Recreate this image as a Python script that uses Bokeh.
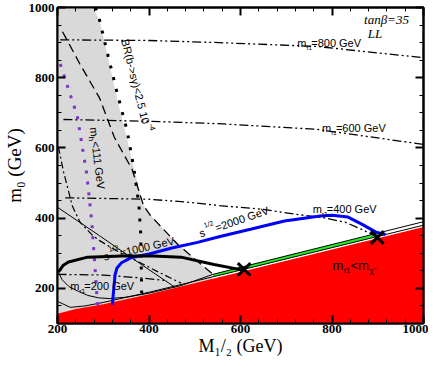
import math
from bokeh.plotting import figure
from bokeh.models import Range1d, LinearAxis, SingleIntervalTicker
from bokeh.core.properties import value
from bokeh.embed import file_html
from bokeh.resources import INLINE

# ---------------- data ----------------
# boundary of the stau-LSP (red) region
red_x = [200, 240, 300, 400, 600, 800, 1000]
red_y = [128, 141, 155, 183, 247, 311, 375]
# right boundary of the grey excluded region
grey_x = [277, 292, 309, 330, 351, 367, 388, 403, 463, 538]
grey_y = [1000, 964, 867, 742, 631, 542, 436, 408, 325, 242]
# thin double lines along the boundary
lineA_x = [200, 210, 225, 245, 266, 290, 313, 350, 399, 470, 540, 600, 800, 1000]
lineA_y = [250, 225, 205, 192, 180, 173, 171, 175, 186, 208, 240, 260, 325, 390]
lineB_x = [200, 228, 260, 300, 400, 540, 600, 800, 1000]
lineB_y = [163, 146, 150, 160, 189, 233, 252, 316, 380]
# green coannihilation strip
green_x = [540, 600, 800, 905]
green_lo = [233, 252, 316, 350]
green_hi = [240, 260, 325, 358]
# stau mass contours (dash-dot-dot)
st200_x = [200, 300, 380, 440]
st200_y = [240, 238, 230, 222]
st400_x = [217, 399, 480, 553, 650, 726, 775, 830, 870, 900]
st400_y = [458, 454, 446, 436, 425, 410, 403, 388, 365, 345]
st600_x = [213, 400, 553, 767, 1000]
st600_y = [681, 676, 669, 653, 610]
st800_x = [206, 400, 553, 767, 1000]
st800_y = [908, 906, 900, 889, 857]
# other left-side contours
dd_x = [202, 213, 224, 232, 249, 275, 292, 335, 378, 420, 470]
dd_y = [603, 533, 478, 436, 389, 353, 336, 303, 275, 247, 215]
thin_x = [200, 292, 363, 457]
thin_y = [431, 350, 286, 203]
dash_x = [211, 249, 292, 324, 363, 388, 403, 463, 538]
dash_y = [931, 839, 742, 631, 539, 436, 408, 325, 242]
br_x = [283, 292, 303, 328, 352, 367, 378, 382, 384]
br_y = [1000, 964, 903, 769, 650, 542, 436, 353, 186]
mh_x = [206, 243, 264, 266, 275, 286, 288]
mh_y = [839, 692, 525, 500, 389, 181, 150]
# reach contours
blue_x = [320, 323, 326, 330, 340, 360, 400, 450, 506, 553, 624, 696, 774, 800, 835, 865, 895, 917]
blue_y = [153, 200, 240, 258, 273, 287, 298, 315, 331, 347, 369, 392, 406, 408, 403, 383, 361, 353]
black_x = [202, 212, 224, 266, 339, 410, 470, 542, 606]
black_y = [247, 265, 275, 289, 292, 292, 289, 268, 252]
cross_x = [608, 899]
cross_y = [254, 345]

x_tick_values = [200, 400, 600, 800, 1000]
y_tick_values = [200, 400, 600, 800, 1000]

SANS = "Liberation Sans"
SERIF = "Liberation Serif"

p = figure(width=428, height=358, x_range=Range1d(200, 1000), y_range=Range1d(100, 1000),
           output_backend="svg", toolbar_location=None,
           min_border_left=49, min_border_right=5, min_border_top=7, min_border_bottom=0)
p.grid.visible = False
p.background_fill_color = "white"
p.outline_line_color = "black"
p.outline_line_width = 2


def style_axis(ax, labels=True, ticks=None, tick_standoff=1, label_standoff=0, label_size="18px"):
    ax.axis_line_color = "black"
    ax.axis_line_width = 2
    ax.major_tick_in = 8
    ax.major_tick_out = 0
    ax.minor_tick_in = 4
    ax.minor_tick_out = 0
    ax.major_tick_line_width = 2
    ax.minor_tick_line_width = 1
    ax.major_tick_line_color = "black"
    ax.minor_tick_line_color = "black"
    if labels:
        ax.major_label_text_font = SERIF
        ax.major_label_text_font_style = "bold"
        ax.major_label_text_font_size = "13px"
        ax.major_label_text_color = "black"
        ax.major_label_standoff = tick_standoff
        ax.axis_label_text_font = SERIF
        ax.axis_label_text_font_style = "normal"
        ax.axis_label_text_font_size = label_size
        ax.axis_label_text_color = "black"
        ax.axis_label_standoff = label_standoff
    else:
        ax.major_label_overrides = {t: "" for t in ticks}
        ax.major_label_text_font_size = "1px"
        ax.major_label_standoff = 0


p.xaxis.ticker = SingleIntervalTicker(interval=200, num_minor_ticks=5)
p.yaxis.ticker = SingleIntervalTicker(interval=200, num_minor_ticks=4)
p.xaxis.axis_label = "M\u2081/\u2082 (GeV)"
p.yaxis.axis_label = "m\u2080 (GeV)"
style_axis(p.xaxis[0], tick_standoff=1, label_standoff=0, label_size="18px")
style_axis(p.yaxis[0], tick_standoff=3, label_standoff=1, label_size="19px")
top = LinearAxis(ticker=SingleIntervalTicker(interval=200, num_minor_ticks=5))
right = LinearAxis(ticker=SingleIntervalTicker(interval=200, num_minor_ticks=4))
style_axis(top, labels=False, ticks=x_tick_values)
style_axis(right, labels=False, ticks=y_tick_values)
p.add_layout(top, "above")
p.add_layout(right, "right")

# grey region
gx = [200, 200] + grey_x + [grey_x[-1]]
gy = [100, 1000] + grey_y + [100]
p.patch(gx, gy, fill_color="#d9d9d9", line_color=None)
# red region
p.patch(red_x + [1000, 200], red_y + [100, 100], fill_color="#ff0000", line_color=None)
# green strip
p.patch(green_x + green_x[::-1], green_hi + green_lo[::-1], fill_color="#22ee22", line_color=None)
p.line(lineA_x, lineA_y, line_color="black", line_width=1)
p.line(lineB_x, lineB_y, line_color="black", line_width=1)

dd = "9 3 2 3 2 3"
for xs, ys in [(st200_x, st200_y), (st400_x, st400_y), (st600_x, st600_y), (st800_x, st800_y)]:
    p.line(xs, ys, line_color="black", line_width=1.3, line_dash=dd)
p.line(dd_x, dd_y, line_color="black", line_width=1.2, line_dash="7 3 2 3")
p.line(thin_x, thin_y, line_color="black", line_width=1)
p.line(dash_x, dash_y, line_color="black", line_width=1.3, line_dash="9 5")
p.line(br_x, br_y, line_color="black", line_width=3, line_dash="3 9")
p.line(mh_x, mh_y, line_color="#7b35c8", line_width=3, line_dash="3 8")
p.line(blue_x, blue_y, line_color="#0000ff", line_width=3)
p.line(black_x, black_y, line_color="black", line_width=3)
p.scatter(cross_x, cross_y, marker="x", size=18, line_color="black", line_width=3)


def place(x, y, pieces, angle_deg=0.0, font=SANS, style="normal", color="black"):
    th = math.radians(angle_deg)
    ca, sa = math.cos(th), math.sin(th)
    for txt, a, u, size in pieces:
        xo = a * ca + u * (-sa)
        yo = a * (-sa) + u * (-ca)
        p.text(x=[x], y=[y], text=[txt], angle=th, x_offset=xo, y_offset=yo,
               text_font=value(font), text_font_size=f"{size}px", text_font_style=style,
               text_color=color, text_align="left", text_baseline="alphabetic")


TAU = "\u03c4\u0303"
CHI = "\u03c7\u0303"


def stau_label(x, y, rest):
    place(x, y, [("m", 0, 0, 11), (TAU + "1", 9, -5, 6), (rest, 14, 0, 11)])


stau_label(724, 900, "=800 GeV")
stau_label(778, 656, "=600 GeV")
stau_label(758, 425, "=400 GeV")
stau_label(228, 208, "=200 GeV")

place(801, 264, [("m", 0, 0, 13), (TAU + "1", 11, -5, 7), ("<m", 18, 0, 13), (CHI, 37, -5, 8)])
place(870, 967, [("tan\u03b2=35", 0, 0, 13)], font=SERIF, style="italic")
place(878, 925, [("LL", 0, 0, 13)], font=SERIF, style="italic")

place(356, 912, [("BR(b->s\u03b3)<2.5 10", 0, -4, 11), ("-4", 88, 1, 8)], angle_deg=-76)
place(288, 660, [("m", 0, -4, 11), ("h", 9, -8, 8), ("<111 GeV", 14, -4, 11)], angle_deg=-83)
place(300, 290, [("s", 0, 0, 11), ("1/2", 7, 6, 7), ("=1000 GeV", 17, 0, 11)], angle_deg=13)
place(510, 356, [("s", 0, 0, 11), ("1/2", 7, 6, 7), ("=2000 GeV", 17, 0, 11)], angle_deg=19)

open("out.html", "w").write(file_html(p, INLINE))
